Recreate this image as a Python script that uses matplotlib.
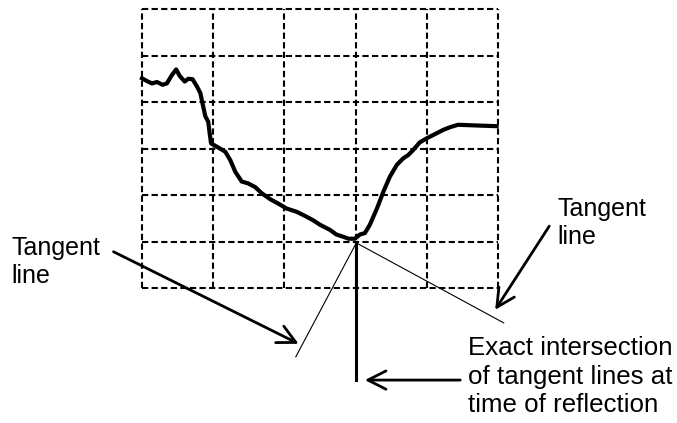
import matplotlib
matplotlib.use("Agg")
import matplotlib.pyplot as plt
import numpy as np

plt.rcParams['font.family'] = ['Liberation Sans', 'DejaVu Sans']

# grid cells (5 columns, 6 rows)
grid_cols = [0, 1, 2, 3, 4, 5]
grid_rows = [0, 1, 2, 3, 4, 5, 6]

# traced signal, in grid units
curve_x = [0.00, 0.07, 0.14, 0.21, 0.29, 0.35, 0.42, 0.48, 0.53, 0.60,
           0.65, 0.71, 0.77, 0.82, 0.85, 0.89, 0.93, 0.95, 0.97, 1.05,
           1.17, 1.24, 1.31, 1.40, 1.49, 1.59, 1.68, 1.80, 1.92, 2.03,
           2.17, 2.29, 2.40, 2.50, 2.64, 2.73, 2.83, 2.90, 2.99, 3.06,
           3.13, 3.20, 3.30, 3.39, 3.48, 3.58, 3.67, 3.74, 3.81, 3.90,
           4.00, 4.09, 4.23, 4.33, 4.44, 4.61, 4.79, 4.98]
curve_y = [4.51, 4.45, 4.40, 4.43, 4.37, 4.40, 4.58, 4.70, 4.56, 4.44,
           4.50, 4.49, 4.34, 4.19, 3.97, 3.69, 3.58, 3.33, 3.11, 3.04,
           2.93, 2.75, 2.50, 2.29, 2.25, 2.17, 2.04, 1.91, 1.81, 1.71,
           1.64, 1.55, 1.46, 1.36, 1.25, 1.15, 1.10, 1.06, 1.06, 1.15,
           1.18, 1.36, 1.71, 2.07, 2.39, 2.65, 2.79, 2.86, 2.97, 3.13,
           3.22, 3.29, 3.40, 3.46, 3.51, 3.50, 3.49, 3.48]

# point where the two tangents meet
meet = (3.01, 0.97)
left_tangent_end = (2.16, -1.48)
right_tangent_end = (5.08, -0.75)
drop_end = (3.01, -1.98)

labels = ["Tangent\nline", "Tangent\nline",
          "Exact intersection\nof tangent lines at\ntime of reflection"]
# baseline of the last line of each label
label_pos = [(-1.83, 0.114), (5.83, 0.946), (4.58, -2.66)]
label_size = [18, 18, 18.6]
arrow_from = [(-0.40, 0.78), (5.72, 1.33), (4.47, -1.98)]
arrow_to = [(2.20, -1.20), (4.96, -0.47), (3.13, -1.98)]


fig = plt.figure(figsize=(6.77, 4.23), dpi=100)
ax = fig.add_axes([0, 0, 1, 1])
ax.set_xlim(-142 / 71.2, (677 - 142) / 71.2)
ax.set_ylim((288 - 423) / 46.5, 288 / 46.5)
ax.axis('off')

#dashed grid
for c in grid_cols:
    ax.plot([c, c], [grid_rows[0], grid_rows[-1]], color='black', lw=1.5,
            dashes=(3, 1.6))
for r in grid_rows:
    ax.plot([grid_cols[0], grid_cols[-1]], [r, r], color='black', lw=1.5,
            dashes=(3, 1.6))

ax.plot(curve_x, curve_y, color='black', lw=3.0, solid_joinstyle='round')

# tangent lines and the drop line
ax.plot([meet[0], left_tangent_end[0]], [meet[1], left_tangent_end[1]], color='black', lw=0.8)
ax.plot([meet[0], right_tangent_end[0]], [meet[1], right_tangent_end[1]], color='black', lw=0.8)
ax.plot([meet[0], drop_end[0]], [meet[1], drop_end[1]], color='black', lw=2.2)

for i in range(len(labels)):
    ax.text(label_pos[i][0], label_pos[i][1], labels[i], fontsize=label_size[i],
            ha='left', va='baseline', linespacing=1.22)
    ax.annotate("", xy=arrow_to[i], xytext=arrow_from[i],
                arrowprops=dict(arrowstyle='->, head_length=0.65, head_width=0.33',
                                lw=2, color='black', mutation_scale=20,
                                shrinkA=0, shrinkB=0))

fig.savefig("out.png", dpi=100)
